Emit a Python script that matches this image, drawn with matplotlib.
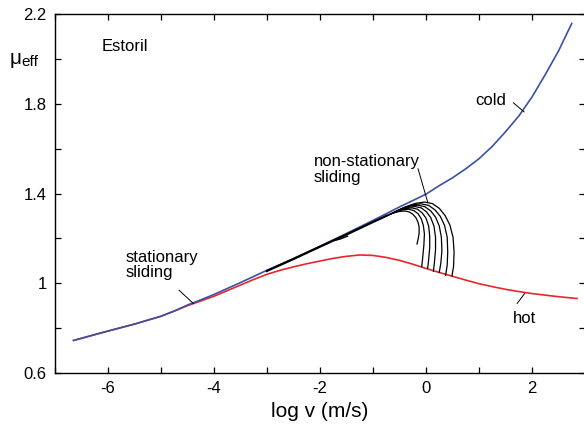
import numpy as np
import matplotlib.pyplot as plt
from matplotlib.ticker import MultipleLocator, FixedLocator

plt.rcParams['font.family'] = ['Liberation Sans', 'DejaVu Sans']
plt.rcParams['axes.unicode_minus'] = False

# cold curve (blue)
cold_x = [-6.65, -6.25, -6.0, -5.5, -5.0, -4.75, -4.5, -4.25, -4.0, -3.5, -3.0,
          -2.5, -2.0, -1.5, -1.0, -0.5, 0.0, 0.25, 0.5, 0.75, 1.0, 1.25, 1.5,
          1.75, 2.0, 2.25, 2.5, 2.75]
cold_y = [0.745, 0.771, 0.787, 0.818, 0.853, 0.876, 0.903, 0.926, 0.950, 1.003,
          1.058, 1.110, 1.165, 1.222, 1.280, 1.340, 1.397, 1.435, 1.470, 1.510,
          1.555, 1.610, 1.675, 1.745, 1.830, 1.930, 2.035, 2.158]

# hot curve (red)
hot_x = [-6.65, -6.25, -6.0, -5.5, -5.0, -4.75, -4.5, -4.25, -4.0, -3.75, -3.5,
         -3.25, -3.0, -2.75, -2.5, -2.25, -2.0, -1.75, -1.5, -1.25, -1.0, -0.75,
         -0.5, -0.25, 0.0, 0.25, 0.5, 0.75, 1.0, 1.25, 1.5, 1.75, 2.0, 2.25,
         2.5, 2.85]
hot_y = [0.745, 0.771, 0.787, 0.818, 0.853, 0.876, 0.900, 0.921, 0.942, 0.967,
         0.992, 1.017, 1.040, 1.058, 1.073, 1.087, 1.099, 1.111, 1.120, 1.126,
         1.124, 1.115, 1.102, 1.085, 1.066, 1.048, 1.031, 1.014, 0.998, 0.985,
         0.973, 0.963, 0.954, 0.947, 0.940, 0.932]

# non-stationary trajectories (black)
trunk_x = [-3.0, -2.5, -2.0, -1.5, -1.0, -0.75]
trunk_y = [1.055, 1.108, 1.163, 1.217, 1.273, 1.300]
hook_x = [-1.72, -1.62, -1.48]
hook_y = [1.191, 1.197, 1.210]

arcs = [
    ([-0.75, -0.62, -0.50, -0.40, -0.32, -0.25, -0.19, -0.15, -0.13, -0.13, -0.15, -0.17],
     [1.300, 1.313, 1.320, 1.322, 1.318, 1.308, 1.292, 1.272, 1.250, 1.222, 1.195, 1.175]),
    ([-0.75, -0.58, -0.45, -0.33, -0.23, -0.15, -0.09, -0.05, -0.03, -0.04, -0.06, -0.08],
     [1.300, 1.318, 1.327, 1.330, 1.324, 1.310, 1.288, 1.258, 1.220, 1.170, 1.120, 1.075]),
    ([-0.75, -0.55, -0.40, -0.27, -0.16, -0.07, 0.00, 0.05, 0.07, 0.07, 0.05, 0.03],
     [1.300, 1.321, 1.332, 1.336, 1.330, 1.313, 1.290, 1.255, 1.210, 1.160, 1.105, 1.066]),
    ([-0.70, -0.52, -0.35, -0.21, -0.09, 0.01, 0.09, 0.15, 0.18, 0.18, 0.16, 0.14],
     [1.305, 1.326, 1.338, 1.342, 1.336, 1.318, 1.292, 1.255, 1.205, 1.150, 1.095, 1.054]),
    ([-0.65, -0.48, -0.30, -0.15, -0.02, 0.09, 0.18, 0.25, 0.29, 0.30, 0.28, 0.25],
     [1.310, 1.331, 1.344, 1.348, 1.341, 1.322, 1.295, 1.255, 1.205, 1.145, 1.090, 1.048]),
    ([-0.60, -0.43, -0.25, -0.09, 0.05, 0.17, 0.27, 0.35, 0.40, 0.41, 0.40, 0.37],
     [1.315, 1.336, 1.350, 1.354, 1.347, 1.327, 1.298, 1.258, 1.205, 1.140, 1.080, 1.036]),
    ([-0.55, -0.38, -0.20, -0.03, 0.12, 0.25, 0.36, 0.45, 0.51, 0.53, 0.52, 0.49],
     [1.320, 1.341, 1.356, 1.362, 1.355, 1.334, 1.302, 1.260, 1.205, 1.140, 1.075, 1.033]),
]

fig = plt.figure(figsize=(5.84, 4.25), dpi=100)
ax = fig.add_axes([55/584, 52/425, 530/584, 359/425])

ax.plot(hot_x, hot_y, color='#e8262b', lw=1.2, zorder=2)
ax.plot(cold_x, cold_y, color='#3a51a5', lw=1.2, zorder=2)
ax.plot(trunk_x, trunk_y, color='k', lw=1.6, zorder=3)
ax.plot(hook_x, hook_y, color='k', lw=1.0, zorder=3)
for arc_x, arc_y in arcs:
    ax.plot(arc_x, arc_y, color='k', lw=0.9, zorder=3)

ax.set_xlim(-7, 3)
ax.set_ylim(0.6, 2.2)

ax.xaxis.set_major_locator(FixedLocator([-6, -4, -2, 0, 2]))
ax.xaxis.set_minor_locator(MultipleLocator(1))
ax.yaxis.set_major_locator(FixedLocator([0.6, 1.0, 1.4, 1.8, 2.2]))
ax.yaxis.set_minor_locator(MultipleLocator(0.2))
ax.set_xticklabels(['-6', '-4', '-2', '0', '2'])
ax.set_yticklabels(['0.6', '1', '1.4', '1.8', '2.2'])
ax.tick_params(which='both', direction='in', top=True, right=True,
               length=4, width=0.9, labelsize=12, pad=6)
for s in ax.spines.values():
    s.set_linewidth(1.0)

ax.set_xlabel('log v (m/s)', fontsize=15, labelpad=4)

# y label placed at the top left
fig.text(10/584, 1 - 58/425, 'μ', fontsize=15, va='center', ha='left')
fig.text(21/584, 1 - 62/425, 'eff', fontsize=11, va='center', ha='left')

ax.text(-6.12, 2.054, 'Estoril', fontsize=12, va='center', ha='left')
ax.text(1.51, 1.816, 'cold', fontsize=12, va='center', ha='right')
ax.plot([1.65, 1.85], [1.804, 1.764], color='k', lw=0.7)
ax.text(1.64, 0.843, 'hot', fontsize=12, va='center', ha='left')
ax.plot([1.72, 1.86], [0.91, 0.954], color='k', lw=0.7)
ax.text(-2.12, 1.508, 'non-stationary\nsliding', fontsize=12, va='center',
        ha='left', linespacing=1.05)
ax.plot([-0.15, 0.03], [1.51, 1.363], color='k', lw=0.7)
ax.text(-5.67, 1.081, 'stationary\nsliding', fontsize=12, va='center',
        ha='left', linespacing=1.05)
ax.plot([-4.66, -4.39], [0.969, 0.91], color='k', lw=0.7)

fig.savefig('out.png', dpi=100)
